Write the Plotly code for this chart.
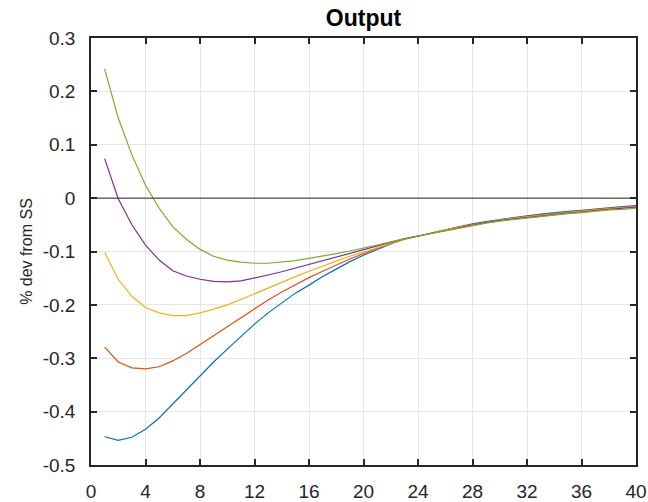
import plotly.graph_objects as go

periods = list(range(1, 41))

series_blue = [-0.447, -0.454, -0.448, -0.433, -0.412, -0.386, -0.360, -0.333, -0.307, -0.283,
               -0.259, -0.236, -0.215, -0.196, -0.178, -0.163, -0.147, -0.133, -0.119, -0.107,
               -0.096, -0.086, -0.077, -0.071, -0.065, -0.059, -0.054, -0.048, -0.044, -0.040,
               -0.036, -0.033, -0.030, -0.027, -0.025, -0.023, -0.020, -0.018, -0.016, -0.014]
series_orange = [-0.279, -0.307, -0.318, -0.320, -0.316, -0.305, -0.291, -0.275, -0.258, -0.241,
                 -0.224, -0.207, -0.191, -0.176, -0.162, -0.149, -0.137, -0.125, -0.114, -0.104,
                 -0.094, -0.085, -0.077, -0.071, -0.065, -0.060, -0.054, -0.049, -0.045, -0.041,
                 -0.037, -0.034, -0.031, -0.028, -0.026, -0.024, -0.021, -0.019, -0.017, -0.015]
series_yellow = [-0.102, -0.152, -0.184, -0.205, -0.215, -0.220, -0.220, -0.215, -0.208, -0.200,
                 -0.190, -0.179, -0.168, -0.157, -0.147, -0.137, -0.127, -0.118, -0.109, -0.101,
                 -0.093, -0.084, -0.077, -0.071, -0.065, -0.060, -0.055, -0.050, -0.045, -0.041,
                 -0.038, -0.035, -0.032, -0.029, -0.027, -0.025, -0.022, -0.020, -0.018, -0.016]
series_purple = [0.074, -0.001, -0.050, -0.088, -0.116, -0.136, -0.146, -0.152, -0.156, -0.157,
                 -0.155, -0.150, -0.144, -0.138, -0.131, -0.125, -0.118, -0.111, -0.104, -0.097,
                 -0.090, -0.083, -0.076, -0.071, -0.066, -0.060, -0.055, -0.050, -0.046, -0.042,
                 -0.039, -0.036, -0.033, -0.030, -0.028, -0.026, -0.023, -0.021, -0.019, -0.017]
series_green = [0.242, 0.150, 0.081, 0.024, -0.019, -0.054, -0.077, -0.096, -0.109, -0.116,
                -0.120, -0.122, -0.122, -0.120, -0.117, -0.113, -0.109, -0.104, -0.099, -0.094,
                -0.088, -0.082, -0.076, -0.071, -0.066, -0.061, -0.056, -0.051, -0.047, -0.043,
                -0.040, -0.037, -0.034, -0.031, -0.029, -0.027, -0.024, -0.022, -0.021, -0.019]

all_series = [series_blue, series_orange, series_yellow, series_purple, series_green]
colors = ["#0072BD", "#D95319", "#EDB120", "#7E2F8E", "#77AC30"]

x_ticks = list(range(0, 41, 4))
y_ticks = [0.3, 0.2, 0.1, 0, -0.1, -0.2, -0.3, -0.4, -0.5]
y_tick_labels = ["0.3", "0.2", "0.1", "0", "-0.1", "-0.2", "-0.3", "-0.4", "-0.5"]

fig = go.Figure()
for vals, col in zip(all_series, colors):
    fig.add_trace(go.Scatter(x=periods, y=vals, mode="lines",
                             line=dict(color=col, width=1.2), showlegend=False))

fig.add_hline(y=0, line=dict(color="#262626", width=1))

axis_common = dict(
    showline=True, linecolor="#262626", linewidth=1.5, mirror="ticks",
    ticks="inside", ticklen=6, tickwidth=1.5, tickcolor="#262626",
    showgrid=True, gridcolor="#e6e6e6", gridwidth=1, zeroline=False,
    automargin=False,
    tickfont=dict(family="Liberation Sans, Arial", size=19, color="#262626"),
)

fig.update_xaxes(range=[0, 40], tickvals=x_ticks, ticklabelstandoff=8, **axis_common)
fig.update_yaxes(range=[-0.5, 0.3], tickvals=y_ticks, ticktext=y_tick_labels,
                 ticklabelstandoff=10,
                 title=dict(text="% dev from SS", standoff=6,
                            font=dict(family="Liberation Sans, Arial", size=16, color="#262626")),
                 **axis_common)

fig.update_layout(
    width=648, height=502,
    margin=dict(l=91, r=12, t=38, b=37),
    paper_bgcolor="white", plot_bgcolor="white",
    title=dict(text="<b>Output</b>", x=(91 + 636) / 2 / 648, xanchor="center",
               y=1 - 18 / 502, yanchor="middle", yref="container", automargin=False,
               font=dict(family="Liberation Sans, Arial", size=23, color="black")),
)

fig.write_html("out.html",
               config={"displayModeBar": False},
               post_script="document.body.style.margin='0';document.body.style.overflow='hidden';")
